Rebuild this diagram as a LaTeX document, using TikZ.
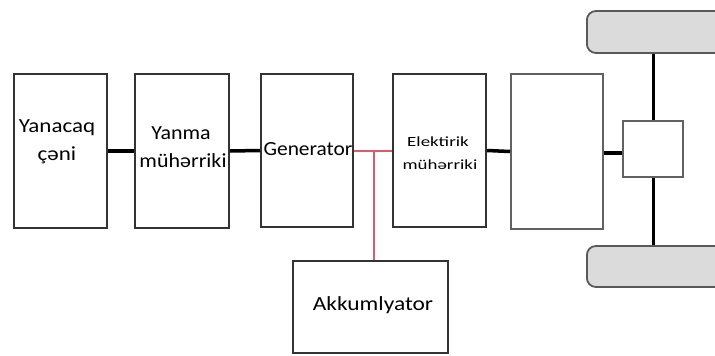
\documentclass[tikz,border=0pt]{standalone}
\usepackage{fontspec}
\setmainfont{Carlito}
\definecolor{elecred}{HTML}{E05A6E}
\begin{document}
\begin{tikzpicture}[x=1pt,y=-1pt,
  blk/.style={draw=black!80,line width=2pt,minimum width=#1,inner sep=0pt},
  gblk/.style={draw=black!62,line width=2pt,fill=white,inner sep=0pt},
  wheel/.style={draw=black!65,line width=1.8pt,fill=black!14,rounded corners=9pt,inner sep=0pt},
  lbl/.style={inner sep=0pt,font=\fontsize{20}{24}\selectfont,text=black},
  slbl/.style={inner sep=0pt,font=\fontsize{14}{17}\selectfont,text=black},
  shaft/.style={line width=3.5pt,black},
  axle/.style={line width=3pt,black},
  elec/.style={line width=1.3pt,elecred}]
\path[use as bounding box] (0,0) rectangle (715,356);
\clip (0,0) rectangle (715,356);
% boxes
\node[blk=93pt,minimum height=154pt] (b1) at (60.5,151) {};
\node[blk=94pt,minimum height=154pt] (b2) at (182,151) {};
\node[blk=92pt,minimum height=153pt] (b3) at (307,150.5) {};
\node[blk=93pt,minimum height=153pt] (b4) at (439.5,150.5) {};
\node[blk=155pt,minimum height=92pt] (akk) at (370.5,307) {};
\node[gblk,minimum width=92pt,minimum height=155pt] (b5) at (557,151.5) {};
\node[gblk,minimum width=60pt,minimum height=56pt] (sq) at (653,149) {};
\node[wheel,minimum width=180pt,minimum height=42pt,anchor=west] (w1) at (586,32) {};
\node[wheel,minimum width=180pt,minimum height=41pt,anchor=west] (w2) at (586,266.5) {};
% labels
\node[lbl,xscale=1.15] (t1a) at (57,128) {Yanacaq};
\node[lbl,xscale=1.15] (t1b) at (57,155) {çəni};
\node[lbl,xscale=1.1] (t2a) at (181,133) {Yanma};
\node[lbl,xscale=1.1] (t2b) at (183,161) {mühərriki};
\node[lbl,xscale=1.07] (t3) at (308,149) {Generator};
\node[slbl,xscale=1.35] (t4a) at (438,142) {Elektirik};
\node[slbl,xscale=1.35] (t4b) at (440,165) {mühərriki};
\node[lbl,xscale=1.17] (t5) at (373,305) {Akkumlyator};
% connectors
\draw[shaft] (b1.east) -- (b2.west);
\draw[shaft] (b2.east) -- (b3.west);
\draw[shaft] (b4.east) -- (b5.west);
\draw[shaft] (b5.east |- 0,153) -- (sq.west |- 0,153);
\draw[axle] (w1.south -| sq.north) -- (sq.north);
\draw[axle] (sq.south) -- (w2.north -| sq.south);
\coordinate (j) at (374,151);
\draw[elec] (b3.east |- j) -- (b4.west |- j);
\draw[elec] (j) -- (j |- akk.north);
\end{tikzpicture}
\end{document}
